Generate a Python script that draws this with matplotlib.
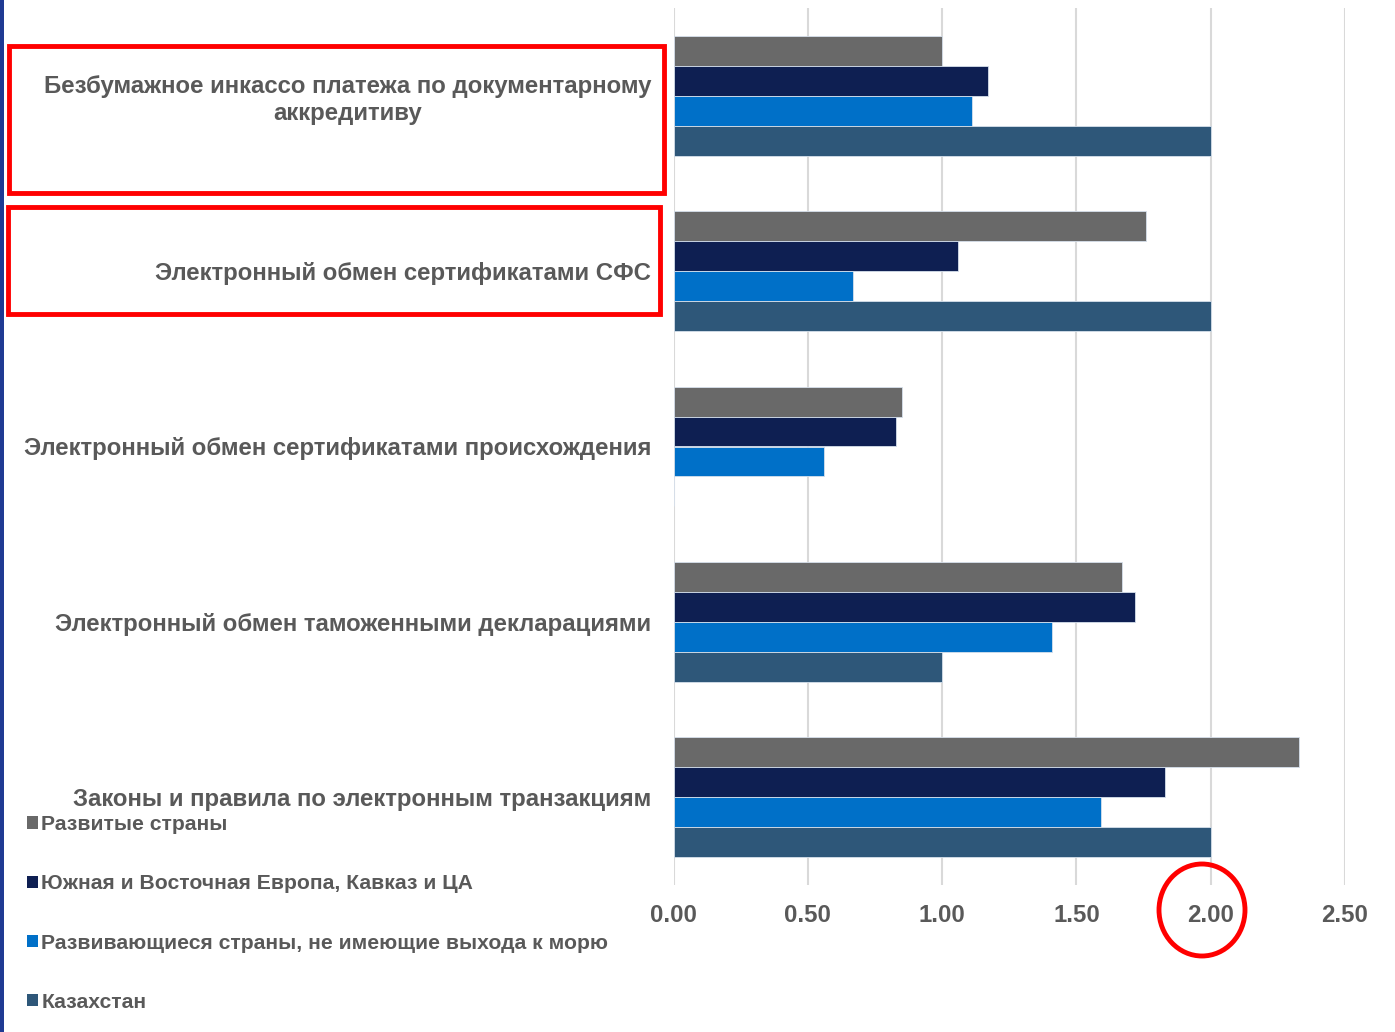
import matplotlib
matplotlib.use('Agg')
import matplotlib.pyplot as plt
import numpy as np
from matplotlib.patches import Rectangle, Ellipse, Patch

plt.rcParams['font.family'] = ['Liberation Sans', 'DejaVu Sans']
plt.rcParams['font.weight'] = 'bold'

categories = ['Безбумажное инкассо платежа по документарному\nаккредитиву',
              'Электронный обмен сертификатами СФС',
              'Электронный обмен сертификатами происхождения',
              'Электронный обмен таможенными декларациями',
              'Законы и правила по электронным транзакциям']
series_names = ['Развитые страны',
                'Южная и Восточная Европа, Кавказ и ЦА',
                'Развивающиеся страны, не имеющие выхода к морю',
                'Казахстан']
developed = [1.00, 1.76, 0.85, 1.67, 2.33]
see_cis = [1.17, 1.06, 0.83, 1.72, 1.83]
landlocked = [1.11, 0.67, 0.56, 1.41, 1.59]
kazakhstan = [2.00, 2.00, 0.0, 1.00, 2.00]
xticks = [0.0, 0.5, 1.0, 1.5, 2.0, 2.5]

colors = ['#696969', '#0E1F52', '#0070C8', '#2E5779']
txt = '#595959'

W, H = 1395, 1032
fig = plt.figure(figsize=(W/100, H/100), dpi=100)
ax = fig.add_axes([673.5/W, 1-885/H, (1345-673.5)/W, (885-8)/H])

y = np.arange(len(categories))
h = 0.171
for i, vals in enumerate([developed, see_cis, landlocked, kazakhstan]):
    ax.barh(y + (i-1.5)*h, vals, height=h, color=colors[i],
            edgecolor='#D6E0EC', linewidth=0.6, zorder=3)

ax.set_xlim(0, 2.5)
ax.set_ylim(len(categories)-0.5, -0.5)
ax.set_xticks(xticks)
ax.set_xticklabels([f'{v:.2f}' for v in xticks])
ax.set_yticks(y)
ax.set_yticklabels(categories)
ax.get_yticklabels()[0].set_multialignment('center')
ax.tick_params(axis='both', length=0, labelsize=17.3, labelcolor=txt)
ax.tick_params(axis='x', pad=14)
ax.tick_params(axis='y', pad=16)
for s in ax.spines.values():
    s.set_visible(False)
ax.grid(axis='x', color='#D9D9D9', linewidth=1.5, zorder=0)
ax.set_axisbelow(True)

handles = [Patch(facecolor=c, edgecolor='none') for c in colors]
fig.legend(handles, series_names, loc='upper left',
           bbox_to_anchor=(27/W, 1-815/H), frameon=False,
           prop={'size': 15.2, 'weight': 'bold'}, labelcolor=txt,
           handlelength=0.5, handleheight=0.5, handletextpad=0.17,
           labelspacing=1.91, borderaxespad=0, borderpad=0)

# left border and red highlights
fig.patches.append(Rectangle((0, 0), 4/W, 1, transform=fig.transFigure,
                             facecolor='#1F3A93', edgecolor='none'))
fig.patches.append(Rectangle((9/W, 1-193/H), (664-9)/W, (193-46)/H,
                             transform=fig.transFigure, fill=False,
                             edgecolor='#FF0000', linewidth=3.5))
fig.patches.append(Rectangle((8/W, 1-314/H), (660-8)/W, (314-207)/H,
                             transform=fig.transFigure, fill=False,
                             edgecolor='#FF0000', linewidth=3.5))
fig.patches.append(Ellipse((1202/W, 1-910/H), 86/W, 92/H,
                           transform=fig.transFigure, fill=False,
                           edgecolor='#FF0000', linewidth=3.5))

fig.savefig('out.png', dpi=100)
